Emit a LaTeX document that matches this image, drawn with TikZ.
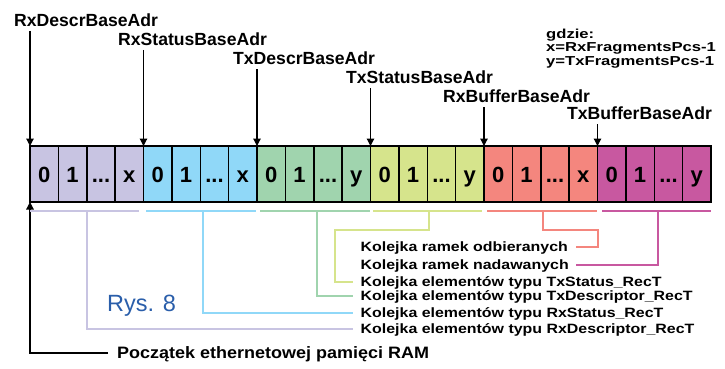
\documentclass[tikz,border=0pt]{standalone}
\usepackage{fontspec}
\usepackage{graphicx}
\setmainfont{Liberation Sans}
\usetikzlibrary{arrows.meta}

\definecolor{cP}{HTML}{C8C4E2}
\definecolor{cB}{HTML}{90D8F8}
\definecolor{cG}{HTML}{A0D4AE}
\definecolor{cY}{HTML}{D6E48C}
\definecolor{cR}{HTML}{F4867E}
\definecolor{cM}{HTML}{C858A0}
\definecolor{rys}{HTML}{2A5EAA}

\newcommand\cellgroup[4]{%
  \node[cell,fill=#3] (#1-0) at (#2,146) {0};
  \node[cell,fill=#3] (#1-1) at (#1-0.north east) {1};
  \node[cell,fill=#3] (#1-2) at (#1-1.north east) {...};
  \node[cell,fill=#3] (#1-3) at (#1-2.north east) {#4};
}

\begin{document}
\begin{tikzpicture}[x=1pt,y=-1pt,
  cell/.style={draw=black, line width=1.5pt, minimum width=28.375pt, minimum height=56pt,
    inner sep=0pt, outer sep=0pt, anchor=north west, text height=16pt, text depth=0pt,
    font=\fontsize{22}{24}\selectfont\bfseries},
  toplab/.style={anchor=west, inner sep=0pt, text height=12.6pt, text depth=0pt,
    font=\fontsize{17.6}{20}\selectfont\bfseries},
  arr/.style={line width=1.2pt, -{Triangle[length=7.5pt,width=7.5pt]}},
  botlab/.style={anchor=west, inner xsep=7.5pt, inner ysep=0pt, text height=9.6pt, text depth=0pt,
    font=\fontsize{13.5}{15}\selectfont\bfseries},
  br/.style={line width=1.6pt}
]
\useasboundingbox (0,0) rectangle (725,369);

% memory cells
\cellgroup{P}{30}{cP}{x}
\cellgroup{B}{143.5}{cB}{x}
\cellgroup{G}{257}{cG}{y}
\cellgroup{Y}{370.5}{cY}{y}
\cellgroup{R}{484}{cR}{x}
\cellgroup{M}{597.5}{cM}{y}

% top labels and arrows
\node[toplab] (lRD) at (14,20) {RxDescrBaseAdr};
\node[toplab] (lRS) at (118,39) {RxStatusBaseAdr};
\node[toplab] (lTD) at (233,58) {TxDescrBaseAdr};
\node[toplab] (lTS) at (346,77) {TxStatusBaseAdr};
\node[toplab] (lRB) at (443,96) {RxBufferBaseAdr};
\node[toplab] (lTB) at (567,113) {TxBufferBaseAdr};

\draw[arr] ([yshift=-4.5pt]lRD.south -| P-0.north west) -- (P-0.north west);
\draw[arr] ([yshift=-4.5pt]lRS.south -| B-0.north west) -- (B-0.north west);
\draw[arr] ([yshift=-4.5pt]lTD.south -| G-0.north west) -- (G-0.north west);
\draw[arr] ([yshift=-4.5pt]lTS.south -| Y-0.north west) -- (Y-0.north west);
\draw[arr] ([yshift=-4.5pt]lRB.south -| R-0.north west) -- (R-0.north west);
\draw[arr] ([yshift=-4.5pt]lTB.south -| M-0.north west) -- (M-0.north west);

% legend
\node[anchor=north west, inner sep=0pt, align=left,
  font=\fontsize{13}{13.6}\selectfont\bfseries] (gdzie) at (546,28.5)
  {\scalebox{1.28}[1]{gdzie:}\\\scalebox{1.28}[1]{x=RxFragmentsPcs-1}\\\scalebox{1.28}[1]{y=TxFragmentsPcs-1}};

% bottom labels
\node[botlab] (kOd) at (353,247) {\scalebox{1.18}[1]{Kolejka ramek odbieranych}};
\node[botlab] (kNa) at (353,265) {\scalebox{1.18}[1]{Kolejka ramek nadawanych}};
\node[botlab] (kTS) at (353,282) {\scalebox{1.18}[1]{Kolejka elementów typu TxStatus\_RecT}};
\node[botlab] (kTD) at (353,296) {\scalebox{1.18}[1]{Kolejka elementów typu TxDescriptor\_RecT}};
\node[botlab] (kRS) at (353,313) {\scalebox{1.18}[1]{Kolejka elementów typu RxStatus\_RecT}};
\node[botlab] (kRD) at (353,329) {\scalebox{1.18}[1]{Kolejka elementów typu RxDescriptor\_RecT}};

\node[anchor=west, inner sep=0pt, text height=17pt, text depth=0pt, text=rys,
  font=\fontsize{23.5}{26}\selectfont] (rys) at (107,303) {Rys. 8};

\node[anchor=west, inner xsep=9pt, inner ysep=0pt, text height=11.7pt, text depth=0pt,
  font=\fontsize{16.5}{19}\selectfont\bfseries] (ram) at (108,353)
  {\scalebox{1.09}[1]{Początek ethernetowej pamięci RAM}};
\draw[arr] (ram.west) -| (P-0.south west);

% brackets
\coordinate (bP) at (87,211);
\coordinate (bB) at (203,211);
\coordinate (bG) at (317,211);
\coordinate (bY) at (429,211);
\coordinate (bR) at (543,211);
\coordinate (bM) at (658,211);
\coordinate (tY) at (335,230);
\coordinate (tR) at (598,230);

\draw[br,cP] (30,211) -- (139,211);
\draw[br,cB] (146,211) -- (256,211);
\draw[br,cG] (260,211) -- (370,211);
\draw[br,cY] (373,211) -- (482,211);
\draw[br,cR] (487,211) -- (597,211);
\draw[br,cM] (602,211) -- (711,211);

\draw[br,cP] (bP) |- (kRD.west);
\draw[br,cB] (bB) |- (kRS.west);
\draw[br,cG] (bG) |- (kTD.west);
\draw[br,cY] (bY) |- (tY) |- (kTS.west);
\draw[br,cR] (bR) |- (tR) |- (kOd.east);
\draw[br,cM] (bM) |- (kNa.east);
\end{tikzpicture}
\end{document}
